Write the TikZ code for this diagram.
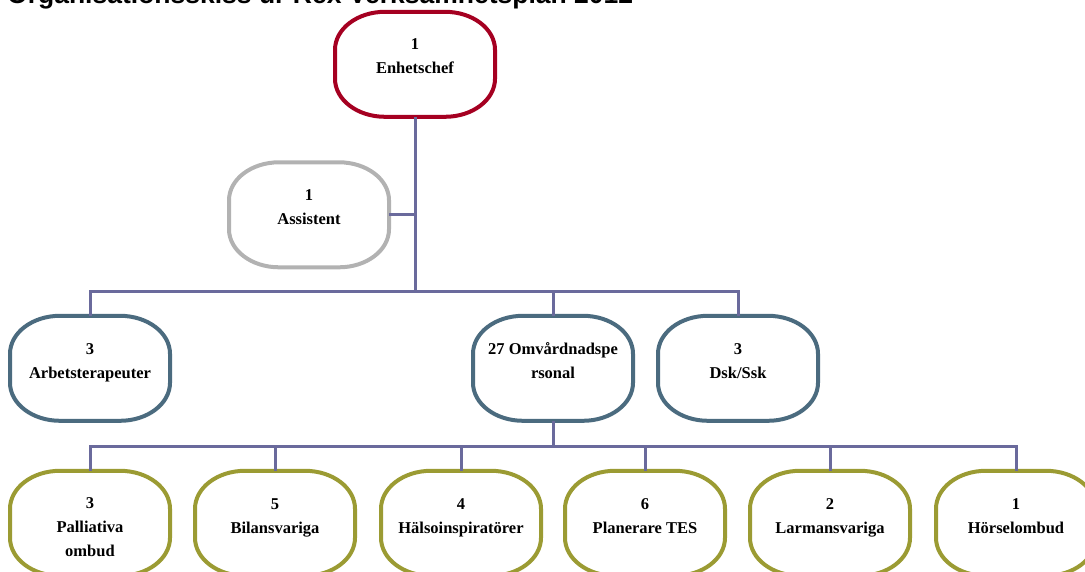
\documentclass[tikz,border=0pt]{standalone}
\usepackage{fontspec}
\setmainfont{Liberation Serif}
\newfontfamily\titlefont{Liberation Sans}
\definecolor{chefred}{HTML}{A50021}
\definecolor{asstgray}{HTML}{B2B2B2}
\definecolor{bluegray}{HTML}{4B6B7F}
\definecolor{olivec}{HTML}{9B9B33}
\definecolor{linec}{HTML}{6A6A9C}
\newcommand\tstrut{\rule{0pt}{19pt}}
\newcommand\ovalround[2]{\draw[line width=4pt,draw=#2] (#1.north) ++(-30pt,0pt) -- ++(60pt,0pt)
  arc[start angle=90,end angle=0,x radius=50pt,y radius=38pt] -- ++(0pt,-29pt)
  arc[start angle=0,end angle=-90,x radius=50pt,y radius=38pt] -- ++(-60pt,0pt)
  arc[start angle=270,end angle=180,x radius=50pt,y radius=38pt] -- ++(0pt,29pt)
  arc[start angle=180,end angle=90,x radius=50pt,y radius=38pt] -- cycle;}
\begin{document}
\begin{tikzpicture}[x=1pt,y=1pt,
  lbl/.style={align=center, font=\fontsize{16.5}{24}\selectfont\bfseries,
    minimum width=160pt, minimum height=105pt, inner sep=0pt},
  conn/.style={draw=linec, line width=3pt}]
\useasboundingbox (0,0) rectangle (1085,-572);
\node[anchor=base west, inner sep=0pt, font=\titlefont\bfseries\fontsize{26.5}{30}\selectfont] (title) at (7,-4) {Organisationsskiss ur Rex Verksamhetsplan 2012};
% nodes
\node[lbl] (chef) at (415,-64.5) {\tstrut 1\\Enhetschef\\\mbox{}};
\node[lbl] (asst) at (309,-215) {\tstrut 1\\Assistent\\\mbox{}};
\node[lbl] (arb) at (90,-368.5) {\tstrut 3\\Arbetsterapeuter\\\mbox{}};
\node[lbl] (omv) at (553,-368.5) {\tstrut 27 Omvårdnadspe\\rsonal\\\mbox{}};
\node[lbl] (dsk) at (738,-368.5) {\tstrut 3\\Dsk/Ssk\\\mbox{}};
\node[lbl] (pal) at (90,-523.5) {\tstrut 3\\Palliativa\\ombud};
\node[lbl] (bil) at (275,-523.5) {\tstrut 5\\Bilansvariga\\\mbox{}};
\node[lbl] (hal) at (461,-523.5) {\tstrut 4\\Hälsoinspiratörer\\\mbox{}};
\node[lbl] (pla) at (645,-523.5) {\tstrut 6\\Planerare TES\\\mbox{}};
\node[lbl] (lar) at (830,-523.5) {\tstrut 2\\Larmansvariga\\\mbox{}};
\node[lbl] (hor) at (1016,-523.5) {\tstrut 1\\Hörselombud\\\mbox{}};
% shapes
\ovalround{chef}{chefred}
\ovalround{asst}{asstgray}
\ovalround{arb}{bluegray}
\ovalround{omv}{bluegray}
\ovalround{dsk}{bluegray}
\ovalround{pal}{olivec}
\ovalround{bil}{olivec}
\ovalround{hal}{olivec}
\ovalround{pla}{olivec}
\ovalround{lar}{olivec}
\ovalround{hor}{olivec}
% connectors
\coordinate (busa) at (415,-292);
\coordinate (busb) at (553,-446);
\draw[conn] (chef.south) -- (busa);
\draw[conn] (asst.east) -- (asst.east -| busa);
\draw[conn] (arb.north) |- (busa);
\draw[conn] (omv.north) |- (busa);
\draw[conn] (dsk.north) |- (busa);
\draw[conn] (omv.south) -- (busb);
\draw[conn] (pal.north) |- (busb);
\draw[conn] (bil.north) |- (busb);
\draw[conn] (hal.north) |- (busb);
\draw[conn] (pla.north) |- (busb);
\draw[conn] (lar.north) |- (busb);
\draw[conn] (hor.north) |- (busb);
\end{tikzpicture}
\end{document}
